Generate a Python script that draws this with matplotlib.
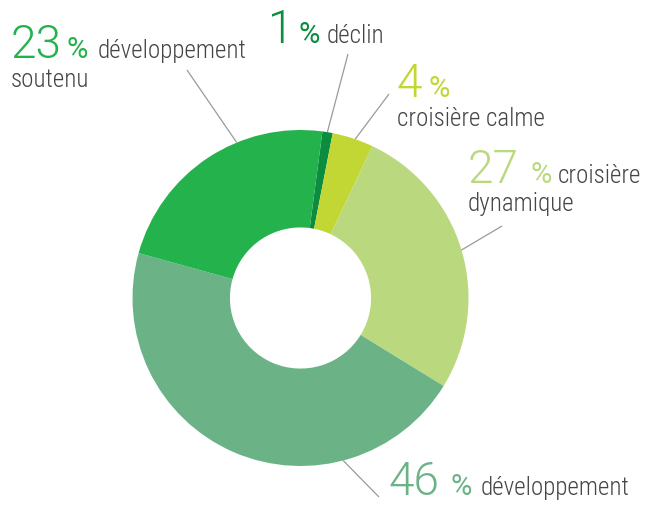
import matplotlib
matplotlib.use("Agg")
import matplotlib.pyplot as plt
from matplotlib import font_manager
import numpy as np

# ---- data ----
categories = ["déclin", "croisière calme", "croisière dynamique", "développement", "développement soutenu"]
values = [1, 4, 27, 46, 23]
colors = ["#0b8c3f", "#c2d733", "#bad97f", "#6bb387", "#23b24c"]
pct_labels = ["1", "4", "27", "46", "23"]

W, H = 650, 505
fig = plt.figure(figsize=(6.5, 5.05), dpi=100)
ax = fig.add_axes([0, 0, 1, 1])

fonts = font_manager.fontManager.ttflist
names = {f.name for f in fonts}
def pick(cands):
    for c in cands:
        if c in names:
            return c
    return "DejaVu Sans"
lab_fam = pick(["Roboto Condensed", "Roboto", "Open Sans"])

# numbers: prefer a family that really has a Light (300) face
num_fam, num_w = None, "normal"
for c in ["Roboto", "Open Sans", "Lato", "Noto Sans", "Inter"]:
    ws = {f.weight for f in fonts if f.name == c}
    if 300 in ws or "light" in ws:
        num_fam, num_w = c, 300
        break
if num_fam is None:
    num_fam = pick(["Roboto", "Open Sans", "Lato"])

def Y(py):
    return H - py

cx, cy, R = 300.5, 298, 168
ax.pie(values, colors=colors, startangle=82.5, counterclock=False,
       radius=R, center=(cx, Y(cy)), frame=True,
       wedgeprops=dict(width=R * 0.58, linewidth=0))
ax.set_xlim(0, W)
ax.set_ylim(0, H)
ax.set_aspect("equal")
ax.axis("off")

# leader lines: (angle on ring in degrees, outer end in px)
leaders = [(80.8, (348, 54)), (71.0, (389, 94)), (16.6, (502, 226)),
           (-75.3, (379, 497)), (112.3, (187, 70))]
for ang, (ex, ey) in leaders:
    a = np.deg2rad(ang)
    sx, sy = cx + R * np.cos(a), cy - R * np.sin(a)
    ax.plot([sx, ex], [Y(sy), Y(ey)], color="#9a9a9a", lw=0.9, solid_capstyle="butt")

txt_color = "#454545"
base = dict(va="baseline", ha="left")
NUM, PCT, LAB = 33, 21, 18

def label(i, num_xy, pct_x, lines):
    ax.text(num_xy[0], Y(num_xy[1]), pct_labels[i], fontsize=NUM, color=colors[i],
            family=num_fam, fontweight=num_w, **base)
    ax.text(pct_x, Y(num_xy[1]), "%", fontsize=PCT, color=colors[i],
            family=num_fam, fontweight="normal", **base)
    for (tx, ty, s) in lines:
        ax.text(tx, Y(ty), s, fontsize=LAB, color=txt_color, family=lab_fam,
                fontweight="light", **base)

label(4, (11, 58), 67, [(98, 58, "développement"), (11, 87, "soutenu")])
label(0, (268, 43), 298, [(327, 43, "déclin")])
label(1, (397, 97), 429, [(397, 126, "croisière calme")])
label(2, (468, 183), 531, [(558, 183, "croisière"), (468, 211, "dynamique")])
label(3, (388, 495), 451, [(481, 495, "développement")])

fig.savefig("out.png", dpi=100)
